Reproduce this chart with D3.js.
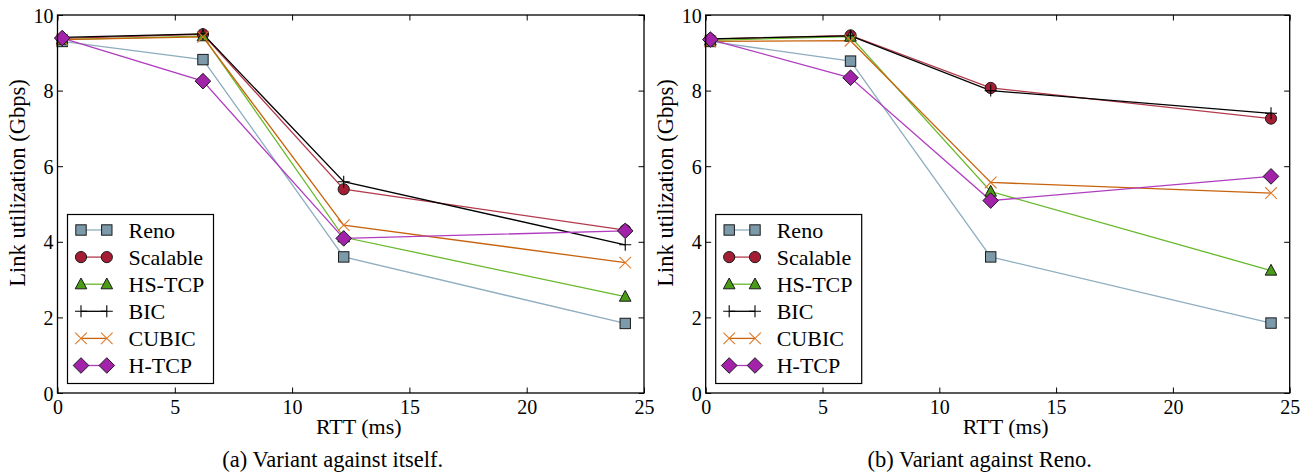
<!DOCTYPE html>
<html><head><meta charset="utf-8">
<script src="https://cdn.jsdelivr.net/npm/d3@7/dist/d3.min.js"></script>
<style>
html,body{margin:0;padding:0;background:#fff;}
</style></head>
<body>
<svg id="chart" width="1315" height="473"></svg>
<script>
// ---- data ----
const rtt = [0.2, 6.2, 12.2, 24.2];
const seriesNames = ["Reno", "Scalable", "HS-TCP", "BIC", "CUBIC", "H-TCP"];
const xTicks = [0, 5, 10, 15, 20, 25];
const yTicks = [0, 2, 4, 6, 8, 10];
const captions = ["(a) Variant against itself.", "(b) Variant against Reno."];
const xLabel = "RTT (ms)";
const yLabel = "Link utilization (Gbps)";

// (a) Variant against itself
const renoA     = [9.30, 8.82, 3.60, 1.84];
const scalableA = [9.38, 9.49, 5.39, 4.31];
const hstcpA    = [9.35, 9.44, 4.12, 2.55];
const bicA      = [9.41, 9.50, 5.59, 3.92];
const cubicA    = [9.35, 9.42, 4.44, 3.45];
const htcpA     = [9.39, 8.25, 4.09, 4.29];

// (b) Variant against Reno
const renoB     = [9.30, 8.78, 3.60, 1.85];
const scalableB = [9.36, 9.46, 8.07, 7.26];
const hstcpB    = [9.33, 9.43, 5.33, 3.24];
const bicB      = [9.37, 9.45, 8.00, 7.40];
const cubicB    = [9.30, 9.32, 5.57, 5.29];
const htcpB     = [9.35, 8.34, 5.09, 5.73];

// ---- styles ----
const FONT = "'Liberation Serif', 'Times New Roman', serif";
const styles = {
  "Reno":     {marker:"square",   fill:"#7d9aab", stroke:"#1a1a1a", line:"#8eadbf"},
  "Scalable": {marker:"circle",   fill:"#a51d33", stroke:"#1a1a1a", line:"#b23a4c"},
  "HS-TCP":   {marker:"triangle", fill:"#4a9b16", stroke:"#1a1a1a", line:"#66b92a"},
  "BIC":      {marker:"plus",     fill:"none",    stroke:"#000000", line:"#000000"},
  "CUBIC":    {marker:"x",        fill:"none",    stroke:"#e07a28", line:"#c8630c"},
  "H-TCP":    {marker:"diamond",  fill:"#a223a9", stroke:"#1a1a1a", line:"#b03dbf"}
};

const panels = [
  {left:57.5, right:644, caption:captions[0], data:[renoA, scalableA, hstcpA, bicA, cubicA, htcpA]},
  {left:705.7, right:1289.7, caption:captions[1], data:[renoB, scalableB, hstcpB, bicB, cubicB, htcpB]}
];
const plotTop = 15, plotBottom = 393;
const svg = d3.select("#chart");

function drawMarker(g, type, st) {
  if (type === "square") {
    g.append("rect").attr("x",-5.2).attr("y",-5.2).attr("width",10.4).attr("height",10.4)
      .attr("fill",st.fill).attr("stroke",st.stroke).attr("stroke-width",1);
  } else if (type === "circle") {
    g.append("circle").attr("r",5.6).attr("fill",st.fill).attr("stroke",st.stroke).attr("stroke-width",1);
  } else if (type === "triangle") {
    g.append("path").attr("d","M0,-6.2L5.8,4.6L-5.8,4.6Z")
      .attr("fill",st.fill).attr("stroke",st.stroke).attr("stroke-width",1);
  } else if (type === "diamond") {
    g.append("path").attr("d","M0,-7.8L7.8,0L0,7.8L-7.8,0Z")
      .attr("fill",st.fill).attr("stroke",st.stroke).attr("stroke-width",1);
  } else if (type === "plus") {
    g.append("path").attr("d","M-6,0H6M0,-6V6").attr("stroke",st.stroke).attr("stroke-width",1.1).attr("fill","none");
  } else if (type === "x") {
    g.append("path").attr("d","M-5.8,-5.8L5.8,5.8M-5.8,5.8L5.8,-5.8").attr("stroke",st.stroke).attr("stroke-width",1.1).attr("fill","none");
  }
}

function txt(sel, size) {
  return sel.attr("font-family", FONT).style("font-family", FONT)
    .attr("font-size", size).style("font-size", size + "px").attr("fill", "#000");
}

panels.forEach(p => {
  const x = d3.scaleLinear().domain([0,25]).range([p.left, p.right]);
  const y = d3.scaleLinear().domain([0,10]).range([plotBottom, plotTop]);
  const g = svg.append("g");

  const axB = d3.axisBottom(x).tickValues(xTicks).tickSizeInner(-5.5).tickSizeOuter(0).tickPadding(7);
  const axT = d3.axisTop(x).tickValues(xTicks).tickSizeInner(-5.5).tickSizeOuter(0).tickFormat("");
  const axL = d3.axisLeft(y).tickValues(yTicks).tickSizeInner(-5.5).tickSizeOuter(0).tickPadding(4);
  const axR = d3.axisRight(y).tickValues(yTicks).tickSizeInner(-5.5).tickSizeOuter(0).tickFormat("");

  const gb = g.append("g").attr("transform",`translate(0,${plotBottom})`).call(axB);
  const gt = g.append("g").attr("transform",`translate(0,${plotTop})`).call(axT);
  const gl = g.append("g").attr("transform",`translate(${p.left},0)`).call(axL);
  const gr = g.append("g").attr("transform",`translate(${p.right},0)`).call(axR);
  [gb,gt,gl,gr].forEach(a => {
    a.attr("font-family", FONT).attr("font-size", 20);
    a.select(".domain").remove();
    a.selectAll("line").attr("stroke","#000").attr("stroke-width",1);
    txt(a.selectAll("text"), 20);
  });
  gb.selectAll("text").attr("dy","0.71em");
  gl.selectAll("text").attr("dy","0.35em");

  p.data.forEach((vals, i) => {
    const st = styles[seriesNames[i]];
    const line = d3.line().x((d,j) => x(rtt[j])).y(d => y(d));
    g.append("path").datum(vals).attr("d", line).attr("fill","none")
      .attr("stroke", st.line).attr("stroke-width", 1.3);
  });
  p.data.forEach((vals, i) => {
    const st = styles[seriesNames[i]];
    vals.forEach((v, j) => {
      const mg = g.append("g").attr("transform",`translate(${x(rtt[j])},${y(v)})`);
      drawMarker(mg, st.marker, st);
    });
  });

  g.append("rect").attr("x",p.left).attr("y",plotTop).attr("width",p.right-p.left).attr("height",plotBottom-plotTop)
    .attr("fill","none").attr("stroke","#000").attr("stroke-width",1.3);

  // legend
  const lx = p.left + 10, ly = 214.5, lw = 146, lh = 169;
  const lg = g.append("g");
  lg.append("rect").attr("x",lx).attr("y",ly).attr("width",lw).attr("height",lh)
    .attr("fill","#fff").attr("stroke","#000").attr("stroke-width",1.2);
  seriesNames.forEach((name, i) => {
    const st = styles[name];
    const ry = ly + 15.5 + i*27.1;
    const m1 = lx + 13.5, m2 = lx + 39.3;
    lg.append("line").attr("x1",m1).attr("x2",m2).attr("y1",ry).attr("y2",ry)
      .attr("stroke",st.line).attr("stroke-width",1.3);
    drawMarker(lg.append("g").attr("transform",`translate(${m1},${ry})`), st.marker, st);
    drawMarker(lg.append("g").attr("transform",`translate(${m2},${ry})`), st.marker, st);
    txt(lg.append("text").attr("x", lx + 61).attr("y", ry).attr("dy","0.35em"), 22).text(name);
  });

  const cx = (p.left + p.right)/2;
  txt(g.append("text").attr("x", cx + 8).attr("y", 434).attr("text-anchor","middle"), 22).text(xLabel);
  txt(g.append("text").attr("transform",`translate(${p.left-32.5},${183}) rotate(-90)`)
    .attr("text-anchor","middle"), 22.5).text(yLabel);
  txt(g.append("text").attr("x", cx - 18).attr("y", 467).attr("text-anchor","middle"), 22.5).text(p.caption);
});
</script>
</body></html>
